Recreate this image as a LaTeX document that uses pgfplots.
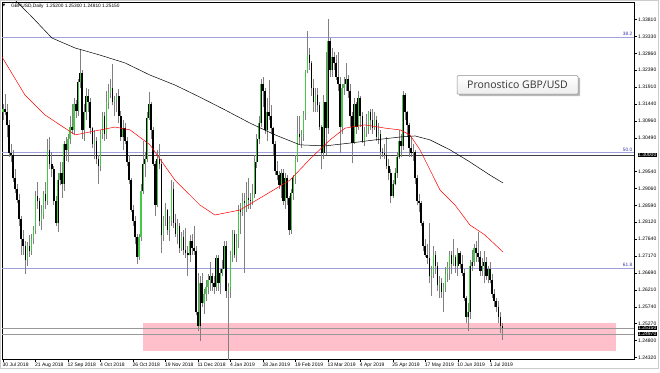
\documentclass[border=0pt]{standalone}
\usepackage{pgfplots}
\pgfplotsset{compat=1.18}
\usepackage{pgfplotstable}
\usepackage{fontspec}
\setmainfont{Liberation Sans}
\newfontfamily\dejavu{DejaVu Sans}
\newfontfamily\opensans{Open Sans}
\usetikzlibrary{shadows}
\definecolor{bull}{RGB}{70,200,70}
\definecolor{fib}{RGB}{160,160,220}
\definecolor{fibtxt}{RGB}{50,50,170}
\definecolor{pinkbox}{RGB}{255,192,203}

\pgfplotstableread{
i o h l c
0 1.3120 1.3145 1.3100 1.3130
1 1.3130 1.3172 1.3112 1.3120
2 1.3120 1.3145 1.3050 1.3085
3 1.3085 1.3100 1.2995 1.3005
4 1.3005 1.3030 1.2980 1.3000
5 1.3000 1.3015 1.2925 1.2935
6 1.2935 1.2960 1.2895 1.2905
7 1.2905 1.2920 1.2865 1.2875
8 1.2875 1.2890 1.2800 1.2820
9 1.2820 1.2830 1.2720 1.2765
10 1.2765 1.2790 1.2720 1.2745
11 1.2745 1.2760 1.2665 1.2705
12 1.2705 1.2755 1.2690 1.2745
13 1.2745 1.2775 1.2715 1.2730
14 1.2730 1.2780 1.2720 1.2765
15 1.2765 1.2800 1.2750 1.2790
16 1.2790 1.2900 1.2780 1.2885
17 1.2885 1.2925 1.2850 1.2870
18 1.2870 1.2880 1.2800 1.2815
19 1.2815 1.2860 1.2790 1.2835
20 1.2835 1.2900 1.2820 1.2890
21 1.2890 1.2925 1.2850 1.2870
22 1.2870 1.3045 1.2860 1.3015
23 1.3015 1.3050 1.2960 1.2975
24 1.2975 1.3010 1.2940 1.2960
25 1.2960 1.2970 1.2860 1.2870
26 1.2870 1.2885 1.2800 1.2810
27 1.2810 1.2950 1.2785 1.2930
28 1.2930 1.2980 1.2915 1.2950
29 1.2950 1.2980 1.2880 1.2920
30 1.2920 1.3040 1.2900 1.3030
31 1.3030 1.3050 1.2985 1.3015
32 1.3015 1.3060 1.2980 1.3045
33 1.3045 1.3110 1.3030 1.3080
34 1.3080 1.3145 1.3060 1.3070
35 1.3070 1.3160 1.3060 1.3145
36 1.3145 1.3155 1.3105 1.3125
37 1.3125 1.3215 1.3110 1.3205
38 1.3205 1.3298 1.3190 1.3230
39 1.3230 1.3240 1.3045 1.3070
40 1.3070 1.3145 1.3040 1.3120
41 1.3120 1.3190 1.3100 1.3165
42 1.3165 1.3185 1.3120 1.3150
43 1.3150 1.3160 1.3060 1.3075
44 1.3075 1.3080 1.3020 1.3030
45 1.3030 1.3070 1.2990 1.3040
46 1.3040 1.3050 1.2975 1.2990
47 1.2990 1.3000 1.2920 1.2970
48 1.2970 1.3070 1.2955 1.3060
49 1.3060 1.3120 1.3045 1.3110
50 1.3110 1.3120 1.3040 1.3060
51 1.3060 1.3180 1.3045 1.3150
52 1.3150 1.3200 1.3130 1.3175
53 1.3175 1.3215 1.3160 1.3190
54 1.3190 1.3257 1.3140 1.3150
55 1.3150 1.3165 1.3110 1.3155
56 1.3155 1.3175 1.3120 1.3165
57 1.3165 1.3185 1.3090 1.3110
58 1.3110 1.3125 1.3040 1.3050
59 1.3050 1.3100 1.3015 1.3075
60 1.3075 1.3090 1.3030 1.3040
61 1.3040 1.3050 1.2970 1.2980
62 1.2980 1.3000 1.2920 1.2930
63 1.2930 1.2935 1.2840 1.2845
64 1.2845 1.2860 1.2800 1.2815
65 1.2815 1.2830 1.2750 1.2770
66 1.2770 1.2780 1.2695 1.2715
67 1.2715 1.2780 1.2705 1.2770
68 1.2770 1.2920 1.2760 1.2900
69 1.2900 1.3040 1.2890 1.2975
70 1.2975 1.3010 1.2940 1.2990
71 1.2990 1.3120 1.2980 1.3105
72 1.3105 1.3176 1.3100 1.3145
73 1.3145 1.3150 1.3045 1.3070
74 1.3070 1.3080 1.2970 1.2975
75 1.2975 1.2985 1.2830 1.2860
76 1.2860 1.3015 1.2855 1.2990
77 1.2990 1.3030 1.2960 1.2975
78 1.2975 1.2990 1.2725 1.2775
79 1.2775 1.2830 1.2760 1.2820
80 1.2820 1.2865 1.2800 1.2845
81 1.2845 1.2850 1.2775 1.2790
82 1.2790 1.2830 1.2760 1.2815
83 1.2815 1.2930 1.2800 1.2905
84 1.2905 1.2925 1.2795 1.2810
85 1.2810 1.2835 1.2770 1.2780
86 1.2780 1.2820 1.2750 1.2800
87 1.2800 1.2810 1.2725 1.2740
88 1.2740 1.2785 1.2730 1.2770
89 1.2770 1.2790 1.2720 1.2735
90 1.2735 1.2795 1.2710 1.2725
91 1.2725 1.2745 1.2660 1.2720
92 1.2720 1.2775 1.2700 1.2760
93 1.2760 1.2780 1.2720 1.2740
94 1.2740 1.2800 1.2720 1.2730
95 1.2730 1.2745 1.2550 1.2560
96 1.2560 1.2670 1.2505 1.2520
97 1.2520 1.2660 1.2477 1.2640
98 1.2640 1.2670 1.2575 1.2585
99 1.2585 1.2625 1.2555 1.2610
100 1.2610 1.2650 1.2590 1.2630
101 1.2630 1.2665 1.2610 1.2650
102 1.2650 1.2700 1.2620 1.2660
103 1.2660 1.2670 1.2620 1.2640
104 1.2640 1.2660 1.2610 1.2630
105 1.2630 1.2720 1.2620 1.2710
106 1.2710 1.2720 1.2620 1.2640
107 1.2640 1.2680 1.2610 1.2670
108 1.2670 1.2705 1.2660 1.2680
109 1.2680 1.2760 1.2680 1.2745
110 1.2745 1.2760 1.2600 1.2620
111 1.2620 1.2640 1.2395 1.2630
112 1.2630 1.2730 1.2600 1.2720
113 1.2720 1.2790 1.2700 1.2780
114 1.2780 1.2790 1.2710 1.2720
115 1.2720 1.2780 1.2700 1.2760
116 1.2760 1.2860 1.2740 1.2845
117 1.2845 1.2865 1.2780 1.2840
118 1.2840 1.2895 1.2830 1.2870
119 1.2870 1.2895 1.2670 1.2865
120 1.2865 1.2925 1.2840 1.2880
121 1.2880 1.2935 1.2850 1.2875
122 1.2875 1.2895 1.2850 1.2870
123 1.2870 1.2920 1.2860 1.2890
124 1.2890 1.3000 1.2880 1.2980
125 1.2980 1.3060 1.2965 1.3045
126 1.3045 1.3110 1.3030 1.3090
127 1.3090 1.3215 1.3080 1.3200
128 1.3200 1.3220 1.3135 1.3180
129 1.3180 1.3190 1.3060 1.3070
130 1.3070 1.3160 1.3040 1.3120
131 1.3120 1.3210 1.3100 1.3110
132 1.3110 1.3140 1.3060 1.3075
133 1.3075 1.3080 1.3000 1.3030
134 1.3030 1.3040 1.2945 1.2955
135 1.2955 1.2985 1.2930 1.2945
136 1.2945 1.2955 1.2905 1.2915
137 1.2915 1.2960 1.2880 1.2950
138 1.2950 1.2960 1.2860 1.2870
139 1.2870 1.2950 1.2850 1.2935
140 1.2935 1.2945 1.2860 1.2880
141 1.2880 1.2885 1.2775 1.2790
142 1.2790 1.2905 1.2780 1.2895
143 1.2895 1.2945 1.2875 1.2935
144 1.2935 1.3000 1.2920 1.2990
145 1.2990 1.3110 1.2980 1.3060
146 1.3060 1.3110 1.3030 1.3050
147 1.3050 1.3070 1.3020 1.3060
148 1.3060 1.3125 1.3040 1.3115
149 1.3115 1.3240 1.3100 1.3235
150 1.3235 1.3350 1.3230 1.3280
151 1.3280 1.3300 1.3240 1.3260
152 1.3260 1.3265 1.3165 1.3190
153 1.3190 1.3215 1.3120 1.3150
154 1.3150 1.3190 1.3120 1.3170
155 1.3170 1.3190 1.3120 1.3140
156 1.3140 1.3150 1.3070 1.3080
157 1.3080 1.3085 1.2960 1.3005
158 1.3005 1.3170 1.2990 1.3150
159 1.3150 1.3290 1.3000 1.3075
160 1.3075 1.3381 1.3060 1.3320
161 1.3320 1.3330 1.3220 1.3240
162 1.3240 1.3300 1.3220 1.3275
163 1.3275 1.3290 1.3240 1.3260
164 1.3260 1.3280 1.3210 1.3220
165 1.3220 1.3290 1.3180 1.3200
166 1.3200 1.3220 1.3005 1.3080
167 1.3080 1.3200 1.3060 1.3190
168 1.3190 1.3220 1.3170 1.3200
169 1.3200 1.3260 1.3180 1.3215
170 1.3215 1.3225 1.3160 1.3180
171 1.3180 1.3200 1.3080 1.3110
172 1.3110 1.3120 1.2977 1.3035
173 1.3035 1.3160 1.3030 1.3145
174 1.3145 1.3150 1.3060 1.3080
175 1.3080 1.3180 1.3070 1.3160
176 1.3160 1.3165 1.3080 1.3110
177 1.3110 1.3120 1.3035 1.3040
178 1.3040 1.3080 1.3025 1.3065
179 1.3065 1.3115 1.3050 1.3075
180 1.3075 1.3125 1.3060 1.3120
181 1.3120 1.3130 1.3070 1.3100
182 1.3100 1.3130 1.3060 1.3075
183 1.3075 1.3120 1.3070 1.3100
184 1.3100 1.3110 1.3040 1.3050
185 1.3050 1.3090 1.3030 1.3060
186 1.3060 1.3070 1.2990 1.3010
187 1.3010 1.3020 1.2995 1.3005
188 1.3005 1.3030 1.2990 1.3000
189 1.3000 1.3050 1.2960 1.2970
190 1.2970 1.2990 1.2930 1.2950
191 1.2950 1.2960 1.2865 1.2885
192 1.2885 1.2930 1.2880 1.2920
193 1.2920 1.2965 1.2915 1.2950
194 1.2950 1.3010 1.2935 1.2995
195 1.2995 1.3070 1.2990 1.3040
196 1.3040 1.3060 1.2995 1.3025
197 1.3025 1.3180 1.3015 1.3170
198 1.3170 1.3175 1.3100 1.3120
199 1.3120 1.3125 1.3050 1.3085
200 1.3085 1.3090 1.2995 1.3020
201 1.3020 1.3050 1.2995 1.3005
202 1.3005 1.3030 1.2985 1.3010
203 1.3010 1.3015 1.2920 1.2935
204 1.2935 1.2945 1.2860 1.2870
205 1.2870 1.2890 1.2840 1.2865
206 1.2865 1.2870 1.2800 1.2810
207 1.2810 1.2815 1.2730 1.2745
208 1.2745 1.2765 1.2715 1.2720
209 1.2720 1.2750 1.2695 1.2710
210 1.2710 1.2810 1.2640 1.2660
211 1.2660 1.2690 1.2605 1.2670
212 1.2670 1.2745 1.2655 1.2720
213 1.2720 1.2730 1.2665 1.2690
214 1.2690 1.2700 1.2620 1.2635
215 1.2635 1.2660 1.2600 1.2640
216 1.2640 1.2655 1.2600 1.2615
217 1.2615 1.2640 1.2560 1.2630
218 1.2630 1.2685 1.2615 1.2665
219 1.2665 1.2700 1.2645 1.2685
220 1.2685 1.2730 1.2650 1.2720
221 1.2720 1.2730 1.2665 1.2695
222 1.2695 1.2765 1.2690 1.2715
223 1.2715 1.2720 1.2670 1.2690
224 1.2690 1.2740 1.2660 1.2725
225 1.2725 1.2730 1.2680 1.2695
226 1.2695 1.2720 1.2660 1.2670
227 1.2670 1.2680 1.2590 1.2600
228 1.2600 1.2605 1.2530 1.2545
229 1.2545 1.2585 1.2506 1.2560
230 1.2560 1.2705 1.2540 1.2690
231 1.2690 1.2735 1.2675 1.2700
232 1.2700 1.2750 1.2690 1.2740
233 1.2740 1.2760 1.2700 1.2725
234 1.2725 1.2783 1.2700 1.2715
235 1.2715 1.2730 1.2660 1.2675
236 1.2675 1.2710 1.2660 1.2690
237 1.2690 1.2730 1.2640 1.2700
238 1.2700 1.2715 1.2650 1.2660
239 1.2660 1.2690 1.2640 1.2680
240 1.2680 1.2700 1.2640 1.2650
241 1.2650 1.2665 1.2600 1.2610
242 1.2610 1.2625 1.2575 1.2590
243 1.2590 1.2600 1.2560 1.2575
244 1.2575 1.2590 1.2530 1.2545
245 1.2545 1.2560 1.2500 1.2520
246 1.2520 1.2530 1.2481 1.2515
}\candles

\pgfplotstableread{
x y
-0.5 1.3276
10.8 1.3169
20.7 1.3113
35.5 1.3057
55.2 1.3079
62.6 1.3071
72.4 1.3029
84.7 1.2930
97.0 1.2860
104.4 1.2832
116.7 1.2846
129.1 1.2888
141.4 1.2930
151.2 1.2989
161.1 1.3043
168.5 1.3076
178.3 1.3085
188.2 1.3076
195.6 1.3071
200.5 1.3057
205.4 1.3015
215.3 1.2902
222.7 1.2860
230.0 1.2804
237.4 1.2776
246.3 1.2728
}\redma

\pgfplotstableread{
x y
4.4 1.3444
13.3 1.3394
24.1 1.3329
35.5 1.3301
47.8 1.3281
60.1 1.3259
72.4 1.3225
84.7 1.3197
97.0 1.3163
109.4 1.3127
121.7 1.3090
134.0 1.3057
146.3 1.3029
158.6 1.3026
170.9 1.3034
183.3 1.3043
195.6 1.3051
203.0 1.3054
210.3 1.3043
220.2 1.3015
230.0 1.2981
239.9 1.2944
246.3 1.2922
}\blackma

\begin{document}
\begin{tikzpicture}[line cap=butt]
\path[use as bounding box] (-2pt,-13pt) rectangle (658pt,359pt);
\begin{axis}[
  at={(0pt,0pt)}, anchor=south west,
  scale only axis, width=632pt, height=357pt,
  xmin=-0.49, xmax=310.84, ymin=1.24277, ymax=1.34301,
  axis line style={black, line width=0.6pt},
  tick style={black, line width=0.4pt},
  tick align=outside, major tick length=3pt,
  xtick pos=bottom, ytick pos=right, yticklabel pos=right,
  xtick={0,16,32,48,64,80,96,112,128,144,160,176,192,208,224,240},
  xticklabels={30 Jul 2018,21 Aug 2018,12 Sep 2018,4 Oct 2018,26 Oct 2018,19 Nov 2018,11 Dec 2018,4 Jan 2019,28 Jan 2019,19 Feb 2019,13 Mar 2019,4 Apr 2019,25 Apr 2019,17 May 2019,10 Jun 2019,1 Jul 2019},
  ytick={1.3381,1.3333,1.3286,1.3239,1.3191,1.3144,1.3096,1.3049,1.2954,1.2906,1.2859,1.2812,1.2764,1.2717,1.2669,1.2621,1.2574,1.2527,1.2480,1.2432},
  yticklabels={1.33810,1.33330,1.32860,1.32390,1.31910,1.31440,1.30960,1.30490,1.29540,1.29060,1.28590,1.28120,1.27640,1.27170,1.26690,1.26210,1.25740,1.25270,1.24800,1.24320},
  ticklabel style={font=\fontsize{5}{6}\selectfont, text=black},
  xticklabel style={anchor=north west, xshift=-1.5pt, inner sep=1pt},
  yticklabel style={anchor=west, inner sep=1pt},
  scaled y ticks=false,
]
% support zone
\addplot[fill=pinkbox, draw=none] coordinates {(69,1.25288) (302,1.25288) (302,1.24502) (69,1.24502)} -- cycle;
% fibonacci and horizontal lines
\addplot[fib, line width=0.5pt] coordinates {(-0.49,1.3332) (310.84,1.3332)};
\addplot[fib, line width=0.5pt] coordinates {(-0.49,1.3007) (310.84,1.3007)};
\addplot[fib, line width=0.5pt] coordinates {(-0.49,1.2683) (310.84,1.2683)};
\addplot[black!75, line width=0.5pt] coordinates {(-0.49,1.3000) (310.84,1.3000)};
\addplot[black!40, line width=0.5pt] coordinates {(-0.49,1.2515) (310.84,1.2515)};
\addplot[black!40, line width=0.5pt] coordinates {(-0.49,1.2497) (310.84,1.2497)};
% candles
\addplot[black!50, line width=0.5pt, quiver={u=0, v=\thisrow{h}-\thisrow{l}}] table[x=i, y=l] {\candles};
\addplot[black, line width=1.6pt, quiver={u=0, v=\thisrow{c}-\thisrow{o}}] table[x=i, y=o] {\candles};
\addplot[bull, line width=1.1pt, quiver={u=0, v={max(\thisrow{c}-\thisrow{o},0)}}] table[x=i, y=o] {\candles};
% moving averages
\addplot[red, line width=0.5pt] table[x=x, y=y] {\redma};
\addplot[black, line width=0.5pt] table[x=x, y=y] {\blackma};
\end{axis}
% header
\node[anchor=center, inner sep=0pt, font=\dejavu\fontsize{3.5}{4}\selectfont] at (2pt,353pt) {▼};
\node[anchor=west, inner sep=0pt, font=\fontsize{4.8}{5.5}\selectfont] at (9pt,353pt) {GBPUSD,Daily\ \ 1.25200 1.25300 1.24810 1.25150};
% fib labels
\node[anchor=south east, inner sep=0.5pt, text=fibtxt, font=\fontsize{4.8}{5}\selectfont] at (631pt,322.5pt) {38.2};
\node[anchor=south east, inner sep=0.5pt, text=fibtxt, font=\fontsize{4.8}{5}\selectfont] at (631pt,206.5pt) {50.0};
\node[anchor=south east, inner sep=0.5pt, text=fibtxt, font=\fontsize{4.8}{5}\selectfont] at (631pt,91.5pt) {61.8};
% highlighted price labels
\node[anchor=west, fill=black, text=white, inner sep=0.7pt, font=\fontsize{5}{5.5}\selectfont] at (635.3pt,204pt) {1.30000};
\node[anchor=west, fill=black, text=white, inner sep=0.7pt, font=\fontsize{5}{5.5}\selectfont] at (635.3pt,31pt) {1.25150};
\node[anchor=west, fill=black, text=white, inner sep=0.7pt, font=\fontsize{5}{5.5}\selectfont] at (635.3pt,25pt) {1.24970};
% label box
\node[draw=black!45, line width=0.5pt, rounded corners=1pt, top color=white, bottom color=black!7,
  drop shadow={shadow xshift=2pt, shadow yshift=-2pt, fill=black!45, opacity=0.6},
  minimum width=121pt, minimum height=18.5pt, inner sep=0pt,
  font=\opensans\fontsize{10.5}{12}\selectfont, text=black!80] at (515.5pt,274pt) {Pronostico GBP/USD};
% outer frame
\draw[black!20, line width=0.6pt] (-1.7pt,-9.5pt) rectangle (656.5pt,358.7pt);
\end{tikzpicture}
\end{document}
